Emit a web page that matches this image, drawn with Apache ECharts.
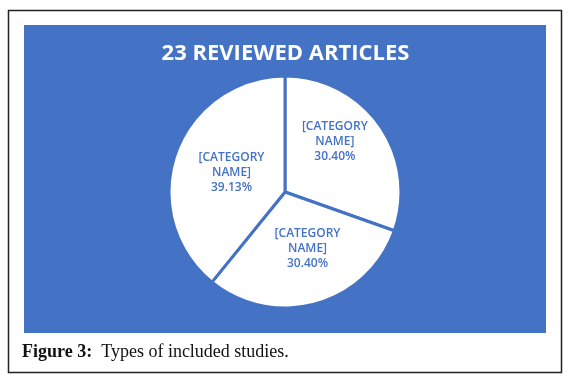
<!DOCTYPE html>
<html>
<head>
<meta charset="utf-8">
<script src="https://cdn.jsdelivr.net/npm/echarts@6/dist/echarts.min.js"></script>
<style>
html,body{margin:0;padding:0;background:#fff;}
#main{width:571px;height:379px;}
</style>
</head>
<body>
<div id="main"></div>
<script>
const chartTitle = '23 REVIEWED ARTICLES';
const categories = ['[CATEGORY NAME]', '[CATEGORY NAME]', '[CATEGORY NAME]'];
const percentValues = [30.40, 30.40, 39.13];
const captionBold = 'Figure 3:';
const captionText = 'Types of included studies.';

const BLUE = '#4472C4';
const labelShift = [[0, -15], [6, -2], [4, 1]];

const chart = echarts.init(document.getElementById('main'), null, {renderer: 'canvas'});
chart.setOption({
  backgroundColor: '#ffffff',
  animation: false,
  title: {
    text: chartTitle,
    left: 'center',
    top: 38,
    textStyle: {color: '#ffffff', fontFamily: 'Open Sans', fontWeight: 'bold', fontSize: 22}
  },
  graphic: [
    {type: 'rect', z: -10, shape: {x: 8.5, y: 10.5, width: 553, height: 362},
      style: {fill: '#ffffff', stroke: '#222222', lineWidth: 1.5}},
    {type: 'rect', z: -9, shape: {x: 24, y: 25, width: 522, height: 308},
      style: {fill: BLUE}},
    {type: 'text', x: 22, y: 352, style: {
      text: '{b|' + captionBold + '}  ' + captionText,
      fill: '#111', font: '18px "Liberation Serif"', textVerticalAlign: 'middle',
      rich: {b: {fontWeight: 'bold', fontSize: 18, fontFamily: 'Liberation Serif', fill: '#111'}}
    }}
  ],
  series: [{
    type: 'pie',
    center: [285, 192],
    radius: [0, 116],
    startAngle: 90,
    clockwise: true,
    data: percentValues.map((v, i) => ({name: categories[i], value: v})),
    itemStyle: {color: '#ffffff', borderColor: BLUE, borderWidth: 3},
    label: {
      show: true,
      position: 'inside',
      color: BLUE,
      fontFamily: 'Open Sans',
      fontSize: 12,
      fontWeight: 600,
      lineHeight: 15,
      formatter: p => '[CATEGORY\nNAME]\n' + p.value.toFixed(2) + '%'
    },
    labelLayout: p => ({dx: labelShift[p.dataIndex][0], dy: labelShift[p.dataIndex][1]}),
    labelLine: {show: false},
    emphasis: {disabled: true}
  }]
});
</script>
</body>
</html>
